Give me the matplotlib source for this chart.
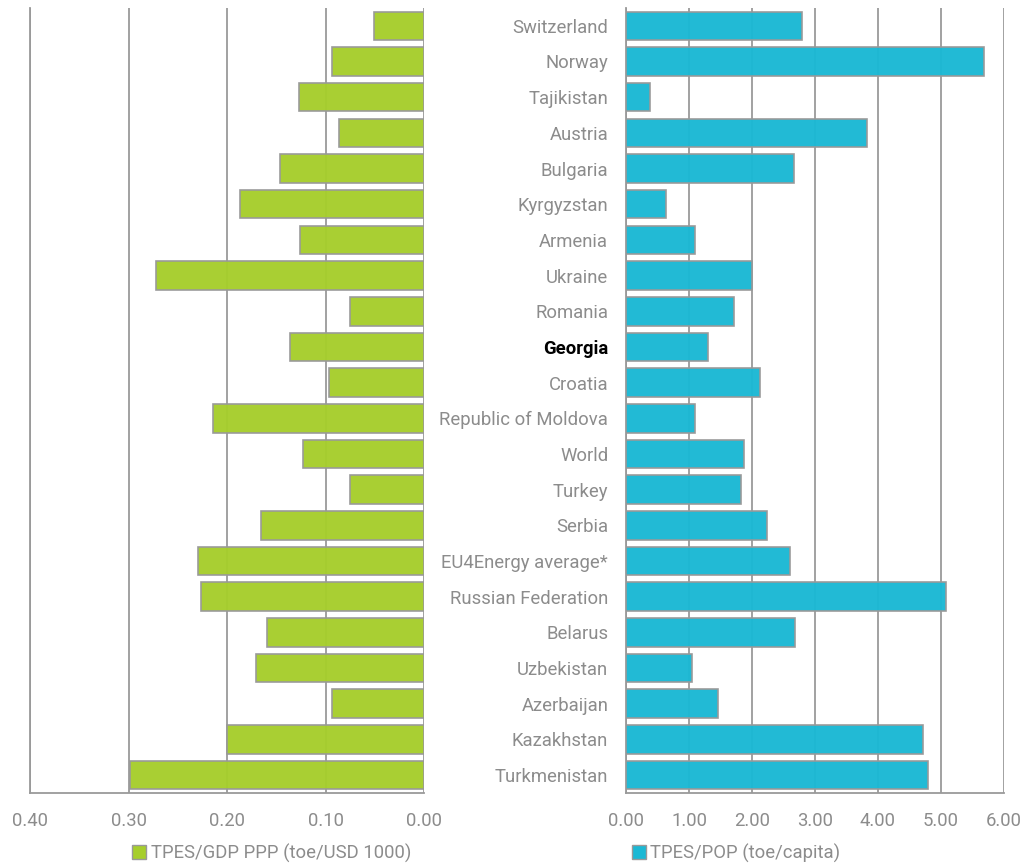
import matplotlib.pyplot as plt
from matplotlib.patches import Patch

# countries, top to bottom as drawn
countries = ["Switzerland", "Norway", "Tajikistan", "Austria", "Bulgaria", "Kyrgyzstan",
             "Armenia", "Ukraine", "Romania", "Georgia", "Croatia", "Republic of Moldova",
             "World", "Turkey", "Serbia", "EU4Energy average*", "Russian Federation",
             "Belarus", "Uzbekistan", "Azerbaijan", "Kazakhstan", "Turkmenistan"]

# TPES/GDP PPP (toe/USD 1000)
tpes_gdp = [0.051, 0.094, 0.127, 0.086, 0.146, 0.187, 0.126, 0.272, 0.075, 0.136, 0.097, 0.214,
            0.123, 0.075, 0.166, 0.230, 0.227, 0.160, 0.171, 0.094, 0.200, 0.299]

# TPES/POP (toe/capita)
tpes_pop = [2.80, 5.69, 0.37, 3.82, 2.66, 0.63, 1.09, 2.00, 1.71, 1.30, 2.13, 1.09,
            1.87, 1.83, 2.23, 2.61, 5.08, 2.69, 1.05, 1.46, 4.72, 4.80]

left_ticks = [0.40, 0.30, 0.20, 0.10, 0.00]
right_ticks = [0, 1, 2, 3, 4, 5, 6]

green = "#a6ce2c"
blue = "#1bb8d4"
edge = "#999999"
grid_c = "#9a9a9a"
txt_c = "#8c8c8c"
fs = 13.3

plt.rcParams['font.family'] = ['Roboto', 'DejaVu Sans']

fig = plt.figure(figsize=(10.24, 8.67), dpi=100)
ax1 = fig.add_axes([0.0293, 0.0854, 0.385, 0.9054])
ax2 = fig.add_axes([0.6116, 0.0854, 0.3685, 0.9054])

ypos = list(range(len(countries)))[::-1]

ax1.barh(ypos, tpes_gdp, height=0.8, color=green, edgecolor=edge, linewidth=1.2, zorder=3, alpha=0.97)
ax2.barh(ypos, tpes_pop, height=0.8, color=blue, edgecolor=edge, linewidth=1.2, zorder=3, alpha=0.97)

ax1.set_xlim(0.40, 0.0)
ax1.set_xticks(left_ticks)
ax1.set_xticklabels([f"{t:.2f}" for t in left_ticks])
ax1.set_yticks([])
ax2.set_xlim(0, 6)
ax2.set_xticks(right_ticks)
ax2.set_xticklabels([f"{t:.2f}" for t in right_ticks])
ax2.set_yticks(ypos)
ax2.set_yticklabels(countries)

for ax in (ax1, ax2):
    ax.set_ylim(-0.5, len(countries) - 0.5)
    ax.grid(axis='x', color=grid_c, linewidth=1.3, zorder=0)
    ax.set_axisbelow(True)
    for s in ('top', 'right'):
        ax.spines[s].set_visible(False)
    for s in ('left', 'bottom'):
        ax.spines[s].set_color(grid_c)
        ax.spines[s].set_linewidth(1.3)
    ax.tick_params(axis='x', length=0, pad=14, labelsize=fs, labelcolor=txt_c)
    ax.tick_params(axis='y', length=0, pad=13, labelsize=fs, labelcolor=txt_c)

for lab in ax2.get_yticklabels():
    if lab.get_text() == "Georgia":
        lab.set_color("black")
        lab.set_fontweight("bold")

leg_kw = dict(loc='center left', frameon=False, fontsize=fs, labelcolor=txt_c,
              handlelength=0.75, handleheight=0.75, handletextpad=0.25,
              borderpad=0, borderaxespad=0)
ax1.legend(handles=[Patch(facecolor=green, edgecolor=edge, label="TPES/GDP PPP (toe/USD 1000)")],
           bbox_to_anchor=(0.259, -0.0764), **leg_kw)
ax2.legend(handles=[Patch(facecolor=blue, edgecolor=edge, label="TPES/POP (toe/capita)")],
           bbox_to_anchor=(0.015, -0.0764), **leg_kw)

fig.savefig("out.png", dpi=100)
